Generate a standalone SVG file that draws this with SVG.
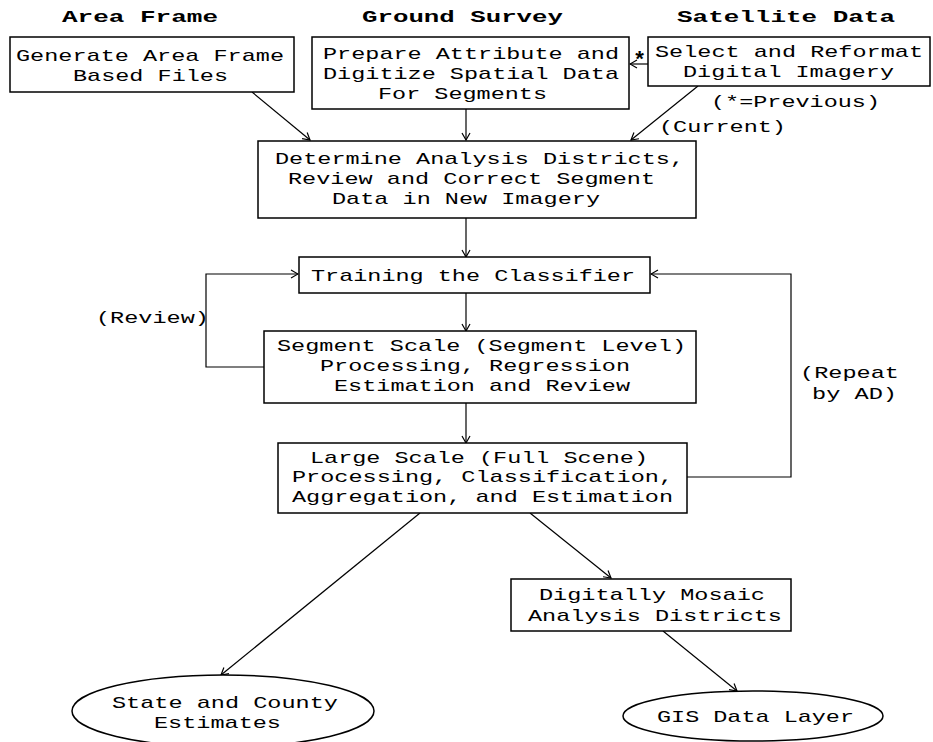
<svg xmlns="http://www.w3.org/2000/svg" width="933" height="742" viewBox="0 0 933 742">
<style>
.box{fill:#fff;stroke:#000;stroke-width:1.5}
.t{font-family:"Liberation Mono","DejaVu Sans Mono",monospace;font-size:17px;fill:#000}
.h{font-family:"Liberation Mono","DejaVu Sans Mono",monospace;font-size:17px;font-weight:bold;fill:#000}
.c{fill:none;stroke:#000;stroke-width:1.2}
</style>
<defs>
<marker id="a" markerWidth="10" markerHeight="10" refX="9" refY="5" orient="auto" markerUnits="userSpaceOnUse">
<path d="M2,1 L9,5 L2,9" fill="none" stroke="#000" stroke-width="1.2"/>
</marker>
</defs>
<rect width="933" height="742" fill="#fff"/>
<g id="headers">
<text class="h" x="62" y="22" textLength="156" lengthAdjust="spacingAndGlyphs">Area Frame</text>
<text class="h" x="362" y="22" textLength="201" lengthAdjust="spacingAndGlyphs">Ground Survey</text>
<text class="h" x="677" y="22" textLength="218" lengthAdjust="spacingAndGlyphs">Satellite Data</text>
</g>
<g id="connectors">
<line class="c" x1="252" y1="92" x2="310" y2="140" marker-end="url(#a)"/>
<line class="c" x1="466" y1="109" x2="466" y2="140" marker-end="url(#a)"/>
<line class="c" x1="648" y1="64" x2="630" y2="64" marker-end="url(#a)"/>
<line class="c" x1="698" y1="86" x2="631" y2="140" marker-end="url(#a)"/>
<line class="c" x1="466" y1="218" x2="466" y2="257" marker-end="url(#a)"/>
<line class="c" x1="466" y1="293" x2="466" y2="331" marker-end="url(#a)"/>
<polyline class="c" points="264,367 206,367 206,274 298,274" marker-end="url(#a)"/>
<line class="c" x1="466" y1="403" x2="466" y2="443" marker-end="url(#a)"/>
<polyline class="c" points="687,477 791,477 791,274 651,274" marker-end="url(#a)"/>
<line class="c" x1="420" y1="513" x2="221" y2="675" marker-end="url(#a)"/>
<line class="c" x1="530" y1="513" x2="611" y2="578" marker-end="url(#a)"/>
<line class="c" x1="663" y1="631" x2="737" y2="691" marker-end="url(#a)"/>
<text class="h" x="633" y="67" style="font-size:22px">*</text>
<text class="t" x="711" y="107" textLength="169" lengthAdjust="spacingAndGlyphs">(*=Previous)</text>
<text class="t" x="659" y="132" textLength="127" lengthAdjust="spacingAndGlyphs">(Current)</text>
<text class="t" x="96" y="323" textLength="113" lengthAdjust="spacingAndGlyphs">(Review)</text>
<text class="t" x="800" y="378" textLength="99" lengthAdjust="spacingAndGlyphs">(Repeat</text>
<text class="t" x="812" y="399" textLength="85" lengthAdjust="spacingAndGlyphs">by AD)</text>
</g>
<g id="generate">
<rect class="box" x="10" y="37" width="284" height="55"/>
<text class="t" x="16" y="61" textLength="268" lengthAdjust="spacingAndGlyphs">Generate Area Frame</text>
<text class="t" x="73" y="81" textLength="155" lengthAdjust="spacingAndGlyphs">Based Files</text>
</g>
<g id="prepare">
<rect class="box" x="312" y="37" width="317" height="72"/>
<text class="t" x="323" y="59" textLength="296" lengthAdjust="spacingAndGlyphs">Prepare Attribute and</text>
<text class="t" x="323" y="79" textLength="296" lengthAdjust="spacingAndGlyphs">Digitize Spatial Data</text>
<text class="t" x="378" y="99" textLength="169" lengthAdjust="spacingAndGlyphs">For Segments</text>
</g>
<g id="select">
<rect class="box" x="648" y="37" width="282" height="49"/>
<text class="t" x="655" y="57" textLength="268" lengthAdjust="spacingAndGlyphs">Select and Reformat</text>
<text class="t" x="683" y="77" textLength="211" lengthAdjust="spacingAndGlyphs">Digital Imagery</text>
</g>
<g id="determine">
<rect class="box" x="258" y="141" width="438" height="77"/>
<text class="t" x="275" y="164" textLength="409" lengthAdjust="spacingAndGlyphs">Determine Analysis Districts,</text>
<text class="t" x="288" y="184" textLength="367" lengthAdjust="spacingAndGlyphs">Review and Correct Segment</text>
<text class="t" x="332" y="204" textLength="268" lengthAdjust="spacingAndGlyphs">Data in New Imagery</text>
</g>
<g id="training">
<rect class="box" x="299" y="257" width="351" height="36"/>
<text class="t" x="311" y="281" textLength="324" lengthAdjust="spacingAndGlyphs">Training the Classifier</text>
</g>
<g id="segment">
<rect class="box" x="264" y="331" width="432" height="72"/>
<text class="t" x="277" y="351" textLength="409" lengthAdjust="spacingAndGlyphs">Segment Scale (Segment Level)</text>
<text class="t" x="320" y="371" textLength="310" lengthAdjust="spacingAndGlyphs">Processing, Regression</text>
<text class="t" x="334" y="391" textLength="296" lengthAdjust="spacingAndGlyphs">Estimation and Review</text>
</g>
<g id="large">
<rect class="box" x="278" y="443" width="409" height="70"/>
<text class="t" x="310" y="463" textLength="338" lengthAdjust="spacingAndGlyphs">Large Scale (Full Scene)</text>
<text class="t" x="292" y="482" textLength="381" lengthAdjust="spacingAndGlyphs">Processing, Classification,</text>
<text class="t" x="292" y="502" textLength="381" lengthAdjust="spacingAndGlyphs">Aggregation, and Estimation</text>
</g>
<g id="mosaic">
<rect class="box" x="511" y="579" width="280" height="52"/>
<text class="t" x="539" y="600" textLength="226" lengthAdjust="spacingAndGlyphs">Digitally Mosaic</text>
<text class="t" x="528" y="621" textLength="254" lengthAdjust="spacingAndGlyphs">Analysis Districts</text>
</g>
<g id="state">
<ellipse class="box" cx="223" cy="711" rx="151" ry="36"/>
<text class="t" x="112" y="708" textLength="226" lengthAdjust="spacingAndGlyphs">State and County</text>
<text class="t" x="154" y="728" textLength="127" lengthAdjust="spacingAndGlyphs">Estimates</text>
</g>
<g id="gis">
<ellipse class="box" cx="753" cy="716" rx="130" ry="25"/>
<text class="t" x="657" y="722" textLength="197" lengthAdjust="spacingAndGlyphs">GIS Data Layer</text>
</g>
</svg>
